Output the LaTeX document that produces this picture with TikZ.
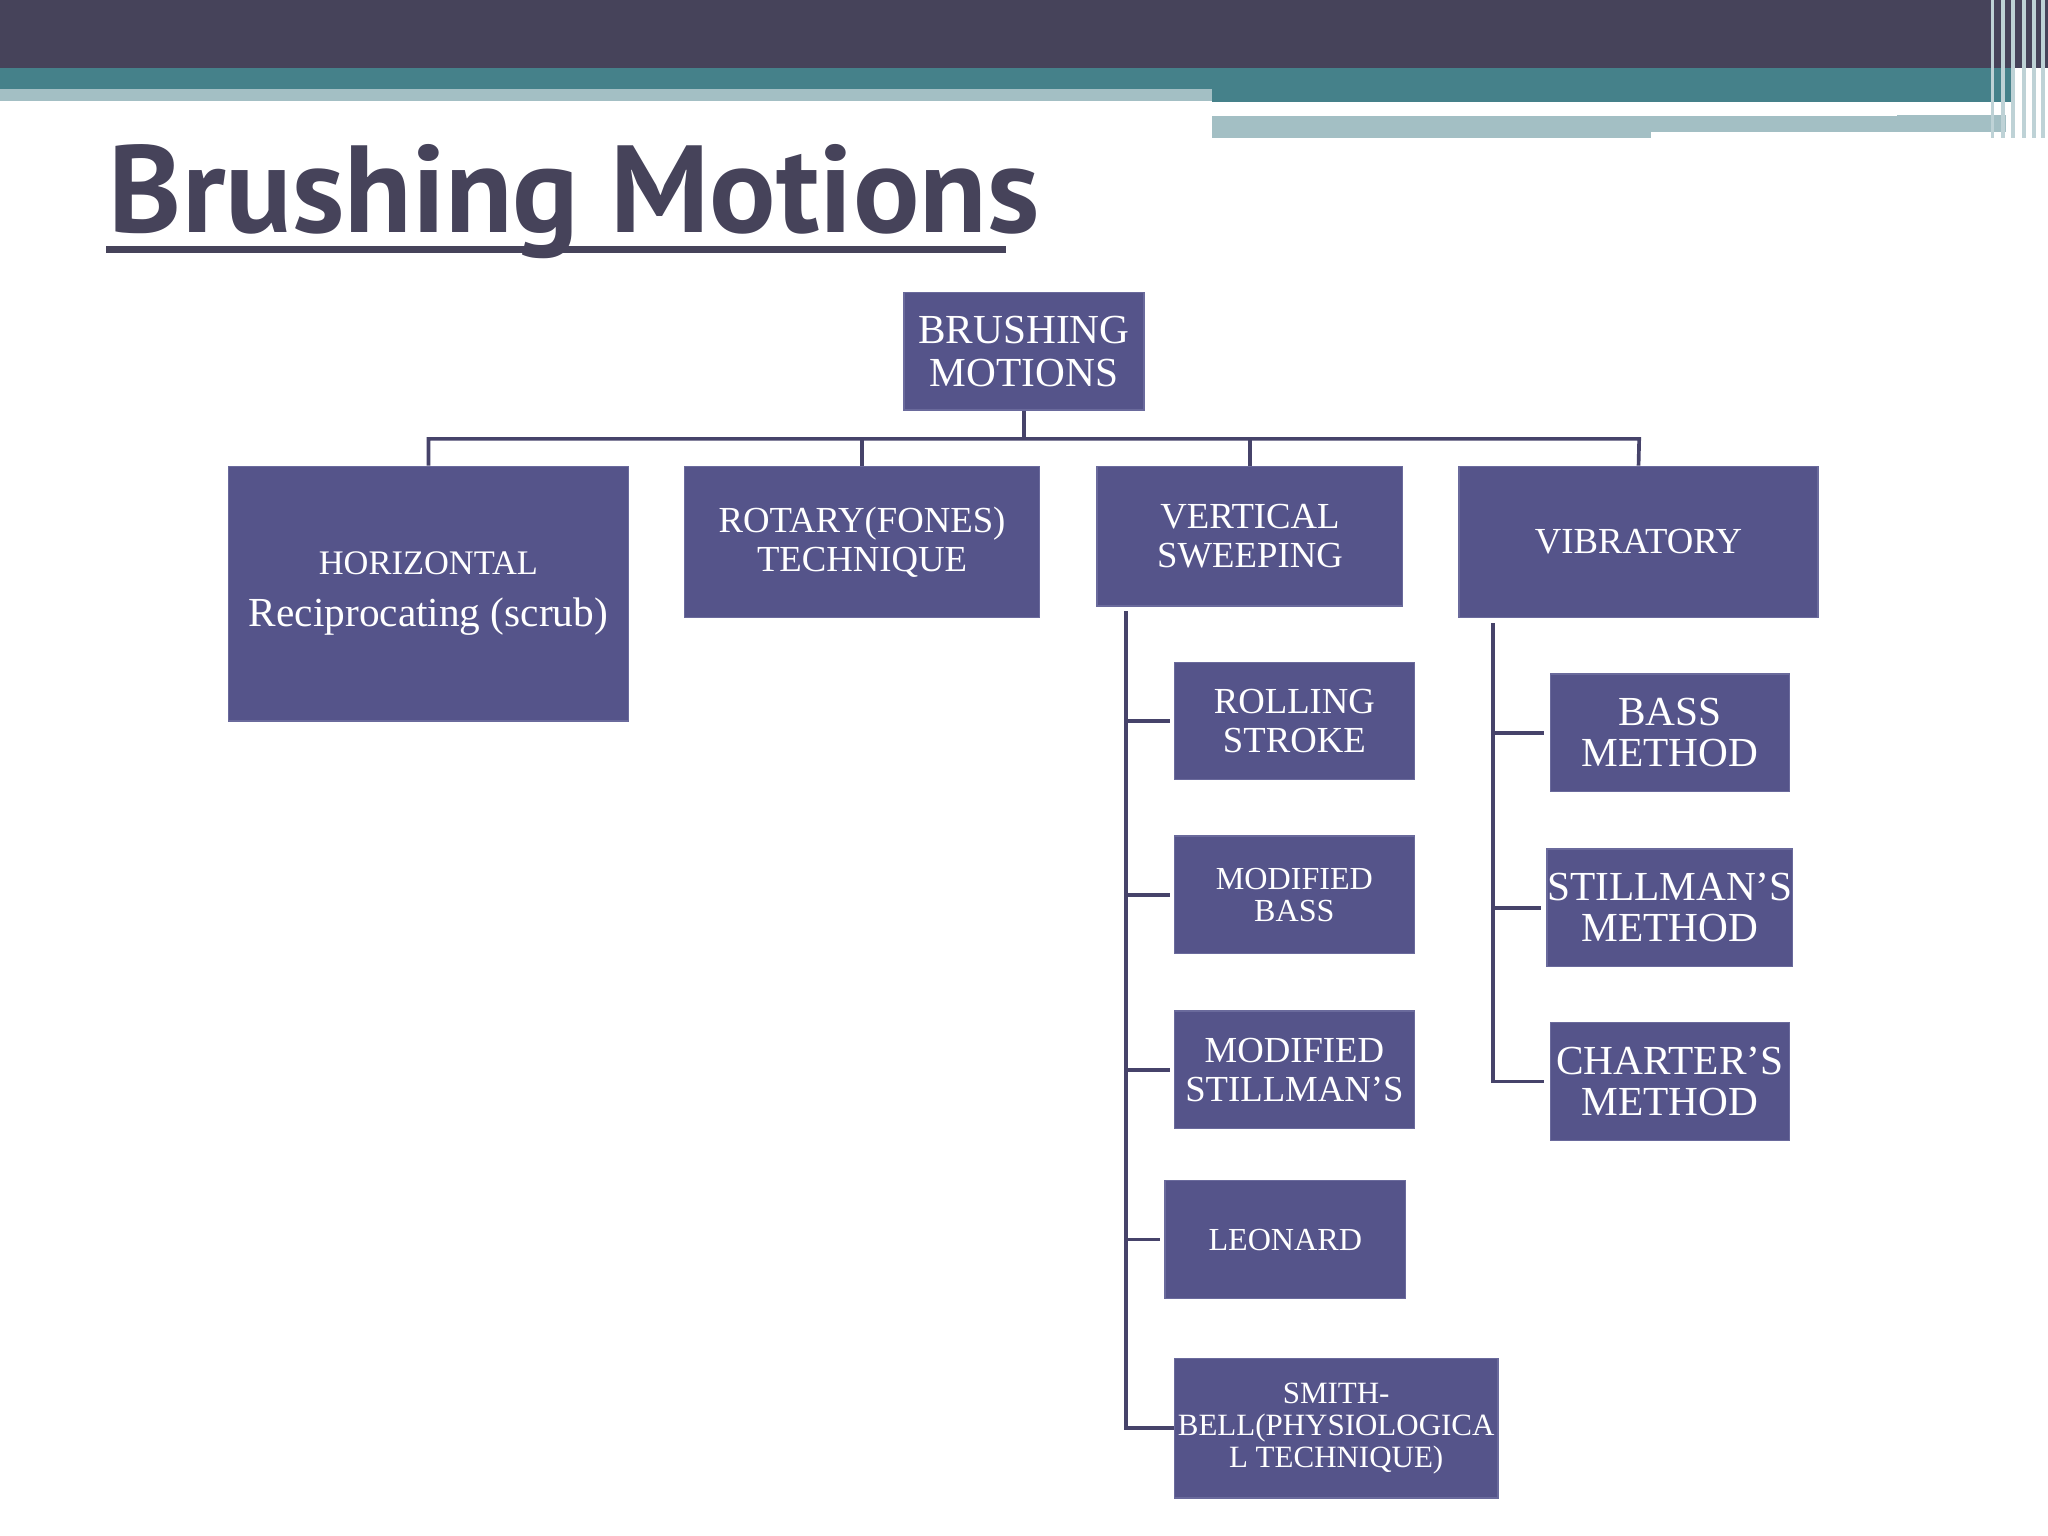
\documentclass[tikz,border=0pt]{standalone}
\usepackage{fontspec}
\setmainfont{Liberation Serif}
\newfontfamily\titlefont{PT Sans}
\definecolor{dark}{HTML}{46435A}
\definecolor{teal}{HTML}{45818A}
\definecolor{lteal}{HTML}{A3BFC4}
\definecolor{boxc}{HTML}{55548A}
\definecolor{boxe}{HTML}{6A6A9C}
\definecolor{linec}{HTML}{46436A}
\begin{document}
\begin{tikzpicture}[x=0.02cm,y=-0.02cm,
  bx/.style={draw=boxe,fill=boxc,text=white,align=center,inner sep=0pt,line width=0.6pt,font=\fontsize{16}{17}\selectfont},
  ln/.style={draw=linec,line width=1.6pt}]
\useasboundingbox (0,0) rectangle (1568,1176);
\fill[white] (0,0) rectangle (1568,1176);
% header
\fill[dark] (0,0) rectangle (1568,52);
\fill[teal] (0,52) rectangle (928,68);
\fill[lteal] (0,68) rectangle (928,77);
\fill[teal] (928,52) rectangle (1540,78);
\fill[lteal] (928,88) rectangle (1264,106);
\fill[lteal] (1264,88) rectangle (1536,101);
\fill[white] (928,84) rectangle (1452,89);
\foreach \x in {1524,1532,1540,1548,1556,1563}{\fill[lteal!70] (\x,0) rectangle (\x+3,106);}
% title
\node[anchor=base west,inner sep=0pt,text=dark,font=\titlefont\bfseries\fontsize{54}{56}\selectfont] (title) at (83,178) {Brushing Motions};
\fill[dark] (81,188) rectangle (770,194);
% boxes
\node[bx,minimum width=184*0.02cm,minimum height=90*0.02cm,font=\fontsize{18}{19}\selectfont] (root) at (784,269) {BRUSHING\\MOTIONS};
\node[bx,minimum width=306*0.02cm,minimum height=195*0.02cm] (hor) at (328,454.5) {\fontsize{15}{16}\selectfont HORIZONTAL\\[6pt]\fontsize{18}{19}\selectfont Reciprocating (scrub)};
\node[bx,minimum width=272*0.02cm,minimum height=116*0.02cm] (rot) at (660,415) {ROTARY(FONES)\\TECHNIQUE};
\node[bx,minimum width=234*0.02cm,minimum height=107*0.02cm] (ver) at (957,410.5) {VERTICAL\\SWEEPING};
\node[bx,minimum width=275*0.02cm,minimum height=116*0.02cm] (vib) at (1254.5,415) {VIBRATORY};
\node[bx,minimum width=184*0.02cm,minimum height=90*0.02cm] (rol) at (991,552) {ROLLING\\STROKE};
\node[bx,minimum width=184*0.02cm,minimum height=90*0.02cm,font=\fontsize{14}{14}\selectfont] (mb) at (991,685) {MODIFIED\\BASS};
\node[bx,minimum width=184*0.02cm,minimum height=90*0.02cm] (ms) at (991,819) {MODIFIED\\STILLMAN’S};
\node[bx,minimum width=184*0.02cm,minimum height=90*0.02cm,font=\fontsize{14}{15}\selectfont] (leo) at (984,949) {LEONARD};
\node[bx,minimum width=248*0.02cm,minimum height=107*0.02cm,font=\fontsize{13.5}{14}\selectfont] (smi) at (1023,1093.5) {SMITH-\\BELL(PHYSIOLOGICA\\L TECHNIQUE)};
\node[bx,minimum width=183*0.02cm,minimum height=90*0.02cm,font=\fontsize{18}{18}\selectfont] (bas) at (1278.5,561) {BASS\\METHOD};
\node[bx,minimum width=183*0.02cm,minimum height=90*0.02cm,font=\fontsize{18}{18}\selectfont] (sti) at (1278.5,695) {STILLMAN’S\\METHOD};
\node[bx,minimum width=183*0.02cm,minimum height=90*0.02cm,font=\fontsize{18}{18}\selectfont] (cha) at (1278.5,828) {CHARTER’S\\METHOD};
% connectors
\coordinate (bl) at (328,336); \coordinate (br) at (1255,336);
\draw[ln] (root.south) -- (784,336);
\draw[ln] (hor.north) -- (bl) -- (br) -- (vib.north);
\draw[ln] (rot.north) -- (660,336);
\draw[ln] (ver.north) -- (957,336);
\coordinate (vt) at (862,468); \coordinate (vb) at (862,1093.5);
\draw[ln] (vt) -- (vb) -- (smi.west);
\foreach \n in {rol,mb,ms,leo}{\draw[ln] (862,0 |- \n.west) -- ([xshift=-0.06cm]\n.west);}
\coordinate (wt) at (1143,477); \coordinate (wb) at (1143,828);
\draw[ln] (wt) -- (wb) -- ([xshift=-0.08cm]cha.west);
\foreach \n in {bas,sti}{\draw[ln] (1143,0 |- \n.west) -- ([xshift=-0.08cm]\n.west);}
\end{tikzpicture}
\end{document}
